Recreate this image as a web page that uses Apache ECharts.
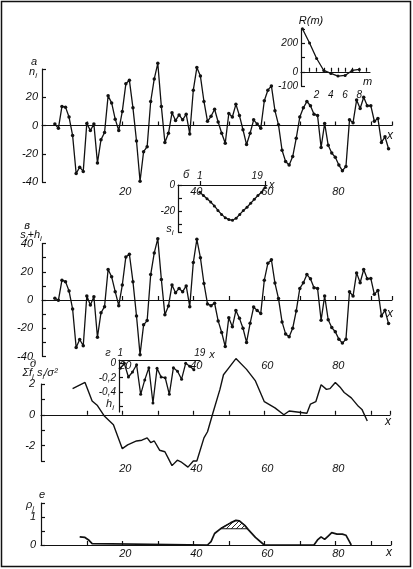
<!DOCTYPE html>
<html><head><meta charset="utf-8">
<script src="https://cdn.jsdelivr.net/npm/echarts@6/dist/echarts.min.js"></script>
<style>html,body{margin:0;padding:0;background:#fff}#c{width:413px;height:569px}</style>
</head><body><div id="c"></div>
<script>
// ---------- data ----------
const xIdx = Array.from({length: 95}, (_, i) => i + 1);   // sample positions i = 1..95
const nA = [1,-2,13.5,13,6,-7,-34,-29.5,-32.5,1.5,
  -3.5,1,-26.5,-10,-5,21,16,4.5,-3.5,10,
  29.5,32,12.5,-11,-39.5,-18.5,-15,17,33,44,
  13.5,-12,-5.5,9,3.5,7.5,4,8,-6,25,
  41,35,17,3,6.5,11.5,2.5,-5.5,-12.5,8.5,
  6,15,7,-3,-13.5,-5.5,4,1,-2,17.5,
  25,28,10.5,0.5,-17.5,-25.5,-28,-22,-9,6,
  12.5,17,14,8,7,-15.5,1.5,-14,-19.5,-22.5,
  -28,-32,-29,4,2,18,12,20,14,14,
  3,5,-12,-8,-16.5];
const sPlusH = [1.2,-0.2,14,13,6.3,-6.3,-33.6,-28,-32.4,2.8,
  -3.5,2.3,-26.3,-9,-4.7,21.6,16.4,5.9,-4,10.6,
  30.5,32.4,13,-11.3,-38.7,-17.6,-14.6,18,33.3,43.4,
  14.6,-10.5,-4.2,10.6,5.2,8.2,5.9,10,-4.7,26.5,
  43,30,11.7,-2.8,-4,-2.3,-14.8,-23,-33,-12.5,
  -19,-7.5,-13,-20,-30,-16.5,-5,-7.5,-9.5,14,
  26,28.5,12,1,-15.5,-24,-26,-20,-7.7,8.2,
  12.2,18,15,8.7,8.2,-14.3,2.8,-14,-19.5,-22.5,
  -27.7,-30.5,-27.7,5.9,2.8,19.2,12.2,21.6,15,15.3,
  4,6.8,-11.3,-7.3,-16.7];
const mLag = [0,1,2,3,4,5,6,7,8];
const Rm = [302,202,93,9,-12,-30,-26,9,16];
const sIdx = Array.from({length: 19}, (_, i) => i + 1);
const sSig = [-5.6,-8,-10.5,-13,-16,-19.5,-22.5,-25,-26.5,-27,-25.5,-22.5,-19.5,-17,-14,-11,-8,-5.5,-2];
const hSig = [-0.07,0.0,-0.19,-0.12,-0.02,-0.43,-0.23,-0.06,-0.55,-0.07,-0.19,-0.2,-0.43,-0.06,-0.11,-0.22,0.0,-0.04,-0.09];
const dX = [6,9.5,11.5,13,15,17.5,20,21.5,24,25.5,27,28,29,30.5,32,33,34,35.5,36.5,38.5,40,41,43,44,45.5,47.5,48.5,50,52,55,57.5,60,63,65.5,67,72,73,74.5,76,77.5,78.5,80,81.5,82.5,84.5,86.5,87.5,89];
const dY = [1.7,2.1,0.9,0.6,-0.1,-0.65,-2.2,-1.95,-1.7,-1.65,-1.5,-1.8,-1.7,-2.3,-2.4,-2.85,-3.3,-2.95,-3.05,-3.4,-3.0,-3.0,-1.5,-1.1,0.1,1.65,2.6,3.05,3.65,2.95,2.2,0.85,0.45,0.0,0.25,0.1,0.7,0.85,1.95,1.65,1.7,2.1,1.75,1.45,1.1,0.55,0.35,-0.4];
const eX = [8,9.5,10.5,11.5,12,44,45,46,48,50.5,52,53,54.5,55.5,57.5,60,74,75,76,77,78,79,80.5,82,83,84,84.5];
const eY = [0.29,0.27,0.18,0.05,0,0,0.12,0.41,0.61,0.79,0.88,0.86,0.7,0.55,0.27,0,0,0.18,0.29,0.2,0.32,0.44,0.39,0.39,0.35,0.12,0];
const hatchLevel = 0.58;
const mainTicks = [10,20,30,40,50,60,70,80,90];
const mainLabels = [20,40,60,80];

// ---------- helpers ----------
const FF = '"Liberation Sans", "DejaVu Sans", sans-serif';
const INK = '#111';
const lab = (size) => ({fontFamily: FF, fontStyle: 'italic', fontSize: size, color: INK});
const line = {color: INK, width: 1.2};

function mainX(gi, min, max, margin, namePad) {
  return {type: 'value', gridIndex: gi, min, max, position: 'bottom',
    axisLine: {show: true, onZero: true, lineStyle: line},
    axisTick: {show: true, inside: true, length: 4, customValues: mainTicks.concat([max]), lineStyle: line},
    axisLabel: Object.assign({customValues: mainLabels, margin, padding: [0,0,0,6]}, lab(11)),
    splitLine: {show: false},
    name: 'x', nameLocation: 'end', nameGap: -5,
    nameTextStyle: Object.assign({verticalAlign: 'top', align: 'left', padding: [namePad,0,0,0]}, lab(12))};
}
function yAx(gi, min, max, ticks, labels, margin, fmt, size) {
  return {type: 'value', gridIndex: gi, min, max,
    axisLine: {show: true, onZero: false, lineStyle: line},
    axisTick: {show: true, inside: true, length: 4, customValues: ticks, lineStyle: line},
    axisLabel: Object.assign({customValues: labels, margin, formatter: fmt || (v => String(v))}, lab(size || 11)),
    splitLine: {show: false}};
}

// hatch pattern
const hatch = document.createElement('canvas');
hatch.width = 5; hatch.height = 5;
const hc = hatch.getContext('2d');
hc.strokeStyle = INK; hc.lineWidth = 0.9;
hc.beginPath(); hc.moveTo(-1, 6); hc.lineTo(6, -1); hc.stroke();

// part of the central peak above the hatch level (boundary points at the level crossings)
const hatchPts = [];
for (let i = 0; i < eX.length; i++) {
  if (eX[i] < 40 || eX[i] > 65) continue;
  if (eY[i] >= hatchLevel) hatchPts.push([eX[i], eY[i]]);
  if (i + 1 < eX.length) {
    const y0 = eY[i], y1 = eY[i+1];
    if ((y0 - hatchLevel) * (y1 - hatchLevel) < 0) {
      const t = (hatchLevel - y0) / (y1 - y0);
      hatchPts.push([eX[i] + t * (eX[i+1] - eX[i]), hatchLevel]);
    }
  }
}

const sub = {fontFamily: FF, fontStyle: 'italic', fontSize: 8, fill: INK, verticalAlign: 'bottom', lineHeight: 15};
const mainT = {fontFamily: FF, fontStyle: 'italic', fontSize: 11, fill: INK, lineHeight: 15};
function txt(text, x, y, size) {
  return {type: 'text', x, y, silent: true,
    style: {text, fill: INK, font: 'italic ' + (size || 11) + 'px ' + FF, textAlign: 'center', textVerticalAlign: 'middle',
      rich: {m: mainT, s: sub}}};
}

const chart = echarts.init(document.getElementById('c'), null, {renderer: 'canvas'});
const dot = {symbol: 'circle', symbolSize: 3.5, itemStyle: {color: INK}, lineStyle: {color: INK, width: 1.3}, clip: false, animation: false};

chart.setOption({
  animation: false,
  backgroundColor: '#fff',
  grid: [
    {left: 42, top: 69, width: 350, height: 113},     // а
    {left: 42, top: 243.5, width: 350, height: 113},  // в
    {left: 41, top: 384, width: 349, height: 77},     // д
    {left: 41, top: 503, width: 350, height: 42},     // е
    {left: 301, top: 29, width: 69, height: 57},      // R(m)
    {left: 178, top: 185, width: 89, height: 47},     // б
    {left: 119, top: 360, width: 81, height: 52}      // г
  ],
  xAxis: [
    mainX(0, -2.62, 95.97, 4, 4),
    mainX(1, -2.62, 95.97, 4, 8),
    mainX(2, -2.9, 95.4, 2, 1),
    mainX(3, -2.9, 95.7, 3, 2),
    {type: 'value', gridIndex: 4, min: -0.2, max: 9.5,
      axisLine: {show: true, onZero: true, lineStyle: line},
      axisTick: {show: true, inside: true, length: 4, customValues: [1,2,3,4,5,6,7,8,9], lineStyle: line},
      axisLabel: Object.assign({customValues: [2,4,6,8], margin: 4}, lab(10)),
      splitLine: {show: false},
      name: 'm', nameLocation: 'end', nameGap: -7,
      nameTextStyle: Object.assign({verticalAlign: 'top', align: 'left', padding: [5,0,0,0]}, lab(11))},
    {type: 'value', gridIndex: 5, min: -5, max: 19.5, position: 'top',
      axisLine: {show: true, onZero: true, lineStyle: line},
      axisTick: {show: true, inside: false, length: 4, customValues: [1,19], lineStyle: line},
      axisLabel: Object.assign({customValues: [1,19], margin: 4,
        formatter: v => v === 19 ? '{r|19}' : String(v),
        rich: {r: Object.assign({padding: [0,16,0,0]}, lab(10))}}, lab(10)),
      splitLine: {show: false},
      name: 'x', nameLocation: 'end', nameGap: 2, nameTextStyle: lab(11)},
    {type: 'value', gridIndex: 6, min: 0.7, max: 20.5, position: 'top',
      axisLine: {show: true, onZero: false, lineStyle: line},
      axisTick: {show: false},
      axisLabel: Object.assign({customValues: [1,19], margin: 2,
        formatter: v => v === 19 ? '{r|19}' : String(v),
        rich: {r: Object.assign({padding: [0,0,0,12]}, lab(10))}}, lab(10)),
      splitLine: {show: false},
      name: 'x', nameLocation: 'end', nameGap: 1,
      nameTextStyle: Object.assign({verticalAlign: 'bottom', padding: [0,0,0,0]}, lab(11))}
  ],
  yAxis: [
    yAx(0, -40, 40, [-40,-20,0,20,40], [-40,-20,0,20], 4),
    yAx(1, -40, 40, [-40,-30,-20,-10,0,10,20,30,40], [-40,-20,0,20,40], 9),
    yAx(2, -3, 2, [-3,-2,-1,0,1,2], [-2,0,2], 6),
    yAx(3, 0, 1.5, [0,0.5,1,1.5], [0,1], 5),
    yAx(4, -100, 300, [-100,0,100,200,300], [-100,0,200], 3, null, 10),
    yAx(5, -36, 0, [0,-10,-20,-30,-36], [0,-20], 3, null, 10),
    yAx(6, -0.675, 0.046, [0,-0.2,-0.4,-0.6], [0,-0.2,-0.4], 3, v => String(v).replace('.', ','), 10)
  ],
  series: [
    Object.assign({type: 'line', xAxisIndex: 0, yAxisIndex: 0, data: xIdx.map((x, i) => [x, nA[i]])}, dot),
    Object.assign({type: 'line', xAxisIndex: 1, yAxisIndex: 1, data: xIdx.map((x, i) => [x, sPlusH[i]])}, dot),
    {type: 'line', xAxisIndex: 2, yAxisIndex: 2, data: dX.map((x, i) => [x, dY[i]]), symbol: 'none',
      lineStyle: {color: INK, width: 1.4}, clip: false},
    {type: 'custom', xAxisIndex: 3, yAxisIndex: 3, data: hatchPts, clip: false, z: 3,
      renderItem: (params, api) => {
        if (params.dataIndex !== 0) return null;
        const pts = hatchPts.map(p => api.coord(p));
        return {type: 'polygon', shape: {points: pts},
          style: {fill: {image: hatch, repeat: 'repeat'}, stroke: INK, lineWidth: 1}};
      }},
    {type: 'line', xAxisIndex: 3, yAxisIndex: 3, data: eX.map((x, i) => [x, eY[i]]), symbol: 'none',
      lineStyle: {color: INK, width: 1.7}, clip: false, z: 4},
    Object.assign({type: 'line', xAxisIndex: 4, yAxisIndex: 4, data: mLag.map((m, i) => [m, Rm[i]])}, dot, {symbolSize: 3}),
    Object.assign({type: 'line', xAxisIndex: 5, yAxisIndex: 5, data: sIdx.map((x, i) => [x, sSig[i]])}, dot, {symbolSize: 3}),
    Object.assign({type: 'line', xAxisIndex: 6, yAxisIndex: 6, data: sIdx.map((x, i) => [x, hSig[i]])}, dot, {symbolSize: 3})
  ],
  graphic: [
    {type: 'rect', silent: true, shape: {x: 1.5, y: 1.5, width: 409, height: 565}, style: {fill: 'none', stroke: INK, lineWidth: 1.5}},
    txt('а', 34, 62),
    txt('{m|n}{s|i}', 33, 72),
    txt('R(m)', 311, 21),
    txt('б', 186, 175),
    txt('{m|s}{s|i}', 170, 229),
    txt('в', 27, 226),
    txt('{m|s}{s|i}{m|+h}{s|i}', 31, 235),
    txt('г', 108, 353),
    txt('{m|h}{s|i}', 110, 404),
    txt('д', 33, 364),
    txt('{m|Σf}{s|i}{m| s}{s|i}{m|/σ²}', 40, 373),
    txt('е', 42, 495),
    txt('{m|ρ}{s|j}', 30, 505)
  ]
});
</script></body></html>
